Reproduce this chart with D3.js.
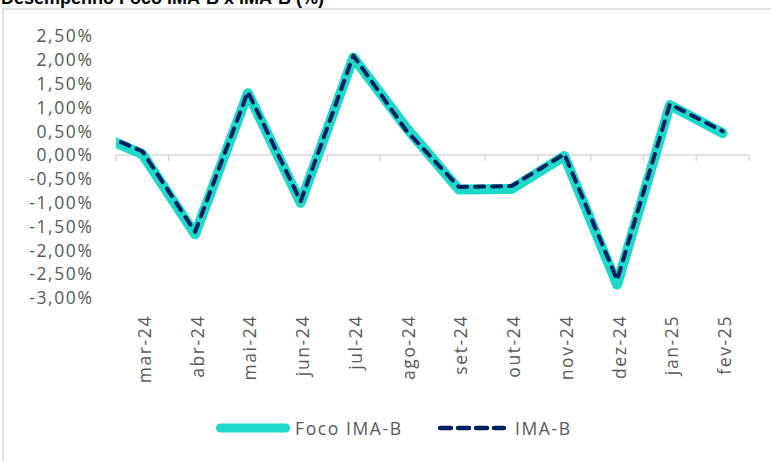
<!DOCTYPE html>
<html><head><meta charset="utf-8">
<script src="https://cdn.jsdelivr.net/npm/d3@7"></script>
<style>html,body{margin:0;padding:0;background:#fff;overflow:hidden}</style>
</head><body>
<svg id="chart" width="771" height="461"></svg>
<script>
// Data (fev-24 lies just before the visible axis range, as in the original chart)
const months = ["fev-24","mar-24","abr-24","mai-24","jun-24","jul-24","ago-24","set-24","out-24","nov-24","dez-24","jan-25","fev-25"];
const focoImab = [0.50, 0.02, -1.66, 1.30, -1.00, 2.05, 0.58, -0.72, -0.71, -0.02, -2.72, 1.05, 0.46];
const imab     = [0.55, 0.08, -1.61, 1.33, -0.97, 2.09, 0.52, -0.67, -0.65, 0.02, -2.62, 1.07, 0.50];
const yTicks = [2.5, 2.0, 1.5, 1.0, 0.5, 0.0, -0.5, -1.0, -1.5, -2.0, -2.5, -3.0];
const seriesNames = ["Foco IMA-B", "IMA-B"];
const title = "Desempenho Foco IMA-B x IMA-B (%)";

const svg = d3.select("#chart");
const plot = {left: 116, right: 749, top: 36, bottom: 298};
const font = "'Open Sans', sans-serif";
const textColor = "#595959";
const teal = "#1dd9ca", navy = "#002060";

// frame
svg.append("rect").attr("x", 3).attr("y", 9).attr("width", 900).attr("height", 600)
  .attr("fill", "none").attr("stroke", "#d9d9d9").attr("stroke-width", 1.5);

// title
svg.append("text").attr("x", 1).attr("y", 4).text(title)
  .attr("font-family", "'Liberation Sans', Arial, sans-serif").attr("font-weight", "bold")
  .attr("font-size", 18).attr("fill", "#000");

const x = d3.scaleLinear().domain([0.5, months.length - 0.5]).range([plot.left, plot.right]);
const y = d3.scaleLinear().domain([2.5, -3.0]).range([plot.top, plot.bottom]);

// y labels
const fmt = v => d3.format(".2f")(v).replace(".", ",").replace("−", "-") + "%";
svg.append("g").selectAll("text").data(yTicks).join("text")
  .attr("x", 93.5).attr("y", d => y(d)).attr("dy", "0.36em")
  .attr("text-anchor", "end").attr("font-family", font).attr("font-size", 17.5)
  .attr("letter-spacing", "1.6px").attr("fill", textColor).text(fmt);

// zero axis with tick marks at category boundaries
const boundaries = d3.range(0.5, months.length, 1);
const axisG = svg.append("g").attr("transform", `translate(0,${y(0)})`);
axisG.append("line").attr("x1", x(0.5)).attr("x2", x(months.length - 0.5))
  .attr("stroke", "#d9d9d9").attr("stroke-width", 1.5);
axisG.selectAll("line.tick").data(boundaries).join("line").attr("class", "tick")
  .attr("x1", d => x(d)).attr("x2", d => x(d)).attr("y1", 0).attr("y2", 6)
  .attr("stroke", "#d9d9d9").attr("stroke-width", 1.5);

// x labels (rotated)
const shown = months.slice(1).map((m, i) => ({m, i: i + 1}));
svg.append("g").selectAll("text").data(shown).join("text")
  .attr("transform", d => `translate(${x(d.i)},${315}) rotate(-90)`)
  .attr("y", 8.5).attr("text-anchor", "end")
  .attr("font-family", font).attr("font-size", 17.5).attr("letter-spacing", "1.6px")
  .attr("fill", textColor).text(d => d.m);

// clip
svg.append("clipPath").attr("id", "clip").append("rect")
  .attr("x", plot.left).attr("y", 0).attr("width", plot.right - plot.left + 20).attr("height", 461);

const line = d3.line().x((d, i) => x(i)).y(d => y(d));
const lines = svg.append("g").attr("clip-path", "url(#clip)");
lines.append("path").datum(focoImab).attr("d", line).attr("fill", "none")
  .attr("stroke", teal).attr("stroke-width", 10).attr("stroke-linejoin", "round").attr("stroke-linecap", "round");
lines.append("path").datum(imab).attr("d", line).attr("fill", "none")
  .attr("stroke", navy).attr("stroke-width", 4).attr("stroke-linejoin", "round").attr("stroke-linecap", "round")
  .attr("stroke-dasharray", "9,8");

// legend
const lg = svg.append("g");
lg.append("line").attr("x1", 220.5).attr("x2", 285.5).attr("y1", 428).attr("y2", 428)
  .attr("stroke", teal).attr("stroke-width", 9).attr("stroke-linecap", "round");
lg.append("text").attr("x", 295).attr("y", 435).text(seriesNames[0])
  .attr("font-family", font).attr("font-size", 17.5).attr("letter-spacing", "1.6px").attr("fill", textColor);
lg.append("line").attr("x1", 440).attr("x2", 504).attr("y1", 428).attr("y2", 428)
  .attr("stroke", navy).attr("stroke-width", 4.5).attr("stroke-linecap", "round").attr("stroke-dasharray", "11,7");
lg.append("text").attr("x", 515).attr("y", 435).text(seriesNames[1])
  .attr("font-family", font).attr("font-size", 17.5).attr("letter-spacing", "1.6px").attr("fill", textColor);
</script>
</body></html>
